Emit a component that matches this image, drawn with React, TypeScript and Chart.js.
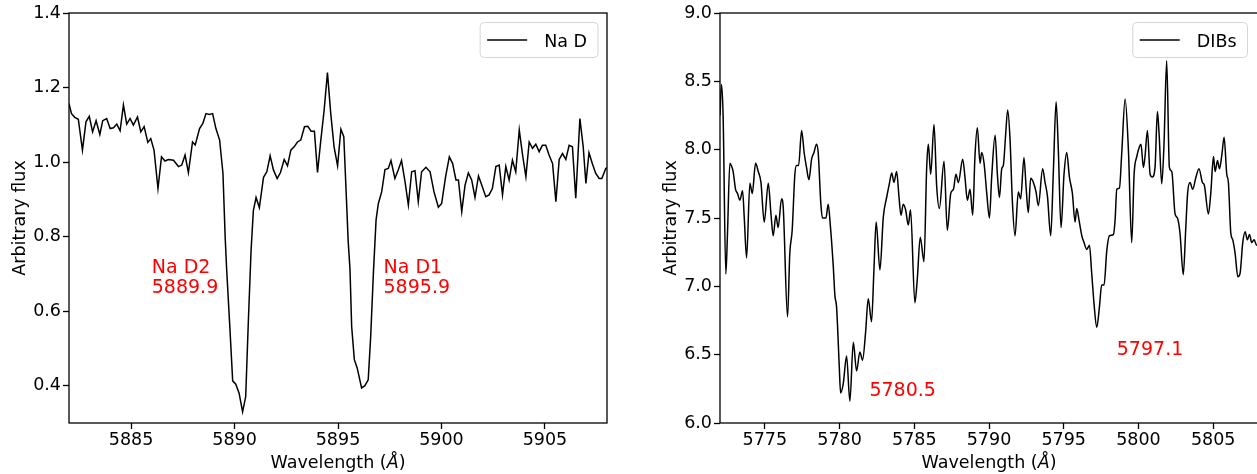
import React, { useEffect, useRef } from "react";
import { Chart, registerables } from "chart.js";

Chart.register(...registerables);

const FONT = "'DejaVu Sans', 'Liberation Sans', sans-serif";

// ---------- Left panel: Na D ----------
const naWavelength = [
  5882.0, 5882.12, 5882.28, 5882.45, 5882.65, 5882.82, 5882.98, 5883.14, 5883.31, 5883.49,
  5883.63, 5883.82, 5883.99, 5884.15, 5884.31, 5884.47, 5884.63, 5884.79, 5884.95, 5885.11,
  5885.31, 5885.47, 5885.63, 5885.81, 5885.95, 5886.11, 5886.3, 5886.47, 5886.64, 5886.8,
  5887.05, 5887.29, 5887.45, 5887.61, 5887.77, 5887.97, 5888.1, 5888.31, 5888.47, 5888.62,
  5888.78, 5888.94, 5889.1, 5889.28, 5889.44, 5889.55, 5889.62, 5889.78, 5889.91, 5890.06,
  5890.22, 5890.39, 5890.54, 5890.67, 5890.8, 5890.91, 5891.04, 5891.2, 5891.4, 5891.56,
  5891.72, 5891.88, 5892.06, 5892.22, 5892.4, 5892.56, 5892.72, 5892.88, 5893.04, 5893.2,
  5893.38, 5893.54, 5893.7, 5893.86, 5894.01, 5894.17, 5894.33, 5894.49, 5894.65, 5894.81,
  5894.98, 5895.14, 5895.28, 5895.41, 5895.49, 5895.58, 5895.66, 5895.79, 5895.93, 5896.14,
  5896.3, 5896.46, 5896.58, 5896.71, 5896.84, 5896.95, 5897.11, 5897.27, 5897.43, 5897.56,
  5897.75, 5897.91, 5898.07, 5898.24, 5898.4, 5898.56, 5898.72, 5898.88, 5899.04, 5899.25,
  5899.45, 5899.64, 5899.85, 5900.01, 5900.2, 5900.38, 5900.54, 5900.7, 5900.82, 5900.98,
  5901.14, 5901.3, 5901.46, 5901.62, 5901.79, 5901.95, 5902.14, 5902.3, 5902.46, 5902.63,
  5902.79, 5902.95, 5903.11, 5903.27, 5903.43, 5903.59, 5903.76, 5903.92, 5904.08, 5904.24,
  5904.4, 5904.56, 5904.72, 5904.88, 5905.04, 5905.2, 5905.37, 5905.53, 5905.69, 5905.85,
  5906.01, 5906.17, 5906.33, 5906.49, 5906.69, 5906.85, 5906.98, 5907.13, 5907.29, 5907.45,
  5907.62, 5907.75, 5907.94, 5908.0,
];
const naFlux = [
  1.157, 1.13, 1.12, 1.115, 1.032, 1.108, 1.123, 1.081, 1.111, 1.074,
  1.111, 1.117, 1.09, 1.092, 1.102, 1.084, 1.153, 1.102, 1.117, 1.099,
  1.121, 1.081, 1.095, 1.053, 1.063, 1.032, 0.929, 1.014, 1.003, 1.007,
  1.005, 0.988, 0.992, 1.019, 0.972, 1.054, 1.046, 1.09, 1.104, 1.13,
  1.128, 1.13, 1.09, 1.059, 0.97, 0.795, 0.711, 0.55, 0.413, 0.404,
  0.38, 0.33, 0.371, 0.577, 0.764, 0.87, 0.905, 0.878, 0.959, 0.974,
  1.017, 0.979, 0.956, 0.972, 1.007, 0.99, 1.032, 1.041, 1.054, 1.059,
  1.095, 1.096, 1.083, 1.083, 0.972, 1.059, 1.139, 1.24, 1.13, 1.041,
  0.99, 1.088, 1.068, 0.898, 0.79, 0.711, 0.559, 0.47, 0.447, 0.394,
  0.4, 0.416, 0.532, 0.702, 0.845, 0.889, 0.92, 0.98, 0.983, 1.004,
  0.956, 0.979, 1.004, 0.947, 0.885, 0.974, 0.977, 0.894, 0.974, 0.986,
  0.974, 0.92, 0.879, 0.889, 0.961, 1.014, 0.996, 0.952, 0.952, 0.867,
  0.938, 0.971, 0.952, 0.905, 0.963, 0.938, 0.907, 0.912, 0.929, 0.988,
  0.992, 0.912, 0.988, 0.952, 1.005, 0.974, 1.086, 1.019, 0.961, 1.054,
  1.037, 1.048, 1.028, 1.045, 1.045, 1.019, 0.996, 0.894, 1.007, 1.023,
  1.007, 1.045, 1.041, 0.903, 1.117, 1.041, 0.943, 1.025, 0.996, 0.97,
  0.956, 0.956, 0.983, 0.985,
];
const naTicksX = [5885, 5890, 5895, 5900, 5905];
const naTicksY = [0.4, 0.6, 0.8, 1.0, 1.2, 1.4];
const naNotes = [
  { lines: ["Na D2", "5889.9"], x: 5886.0, y: 0.65 },
  { lines: ["Na D1", "5895.9"], x: 5897.2, y: 0.65 },
];

// ---------- Right panel: DIBs ----------
const dibWavelength = [
  5772.0, 5772.1, 5772.21, 5772.39, 5772.5, 5772.66, 5772.77, 5772.88, 5773.04, 5773.17,
  5773.33, 5773.51, 5773.62, 5773.78, 5774.0, 5774.16, 5774.38, 5774.56, 5774.74, 5774.96,
  5775.23, 5775.41, 5775.56, 5775.74, 5775.89, 5776.12, 5776.23, 5776.52, 5776.67, 5776.83,
  5777.01, 5777.12, 5777.26, 5777.46, 5777.64, 5777.79, 5777.95, 5778.13, 5778.29, 5778.46,
  5778.57, 5778.75, 5778.86, 5779.09, 5779.24, 5779.38, 5779.58, 5779.69, 5779.8, 5779.98,
  5780.07, 5780.25, 5780.47, 5780.69, 5780.92, 5781.14, 5781.36, 5781.54, 5781.74, 5781.92,
  5782.14, 5782.3, 5782.45, 5782.7, 5782.93, 5783.15, 5783.33, 5783.49, 5783.64, 5783.82,
  5783.98, 5784.11, 5784.26, 5784.42, 5784.6, 5784.75, 5785.04, 5785.2, 5785.4, 5785.65,
  5785.83, 5785.94, 5786.1, 5786.32, 5786.5, 5786.68, 5786.99, 5787.21, 5787.44, 5787.62,
  5787.79, 5787.95, 5788.24, 5788.4, 5788.55, 5788.73, 5788.91, 5789.06, 5789.22, 5789.4,
  5789.51, 5789.67, 5789.85, 5790.03, 5790.18, 5790.41, 5790.56, 5790.7, 5790.85, 5790.96,
  5791.12, 5791.25, 5791.41, 5791.56, 5791.74, 5791.96, 5792.12, 5792.34, 5792.48, 5792.63,
  5792.79, 5792.97, 5793.15, 5793.3, 5793.59, 5793.75, 5793.91, 5794.13, 5794.31, 5794.49,
  5794.64, 5794.82, 5795.02, 5795.2, 5795.38, 5795.58, 5795.76, 5795.87, 5796.03, 5796.21,
  5796.36, 5796.54, 5796.72, 5796.87, 5797.03, 5797.21, 5797.39, 5797.54, 5797.7, 5797.88,
  5798.06, 5798.33, 5798.44, 5798.55, 5798.73, 5798.88, 5799.11, 5799.33, 5799.55, 5799.71,
  5799.89, 5800.06, 5800.17, 5800.33, 5800.44, 5800.6, 5800.78, 5800.93, 5801.11, 5801.27,
  5801.38, 5801.56, 5801.71, 5801.89, 5802.07, 5802.23, 5802.45, 5802.61, 5802.78, 5803.0,
  5803.16, 5803.29, 5803.45, 5803.63, 5803.85, 5804.05, 5804.28, 5804.41, 5804.68, 5804.84,
  5805.02, 5805.13, 5805.29, 5805.42, 5805.58, 5805.73, 5805.91, 5806.02, 5806.18, 5806.31,
  5806.47, 5806.65, 5806.8, 5806.98, 5807.14, 5807.29, 5807.43, 5807.58, 5807.74, 5807.91,
  5808.0,
];
const dibFlux = [
  8.25, 8.476, 8.24, 7.09, 7.385, 7.9, 7.88, 7.84, 7.71, 7.68,
  7.63, 7.7, 7.51, 7.207, 7.755, 7.68, 7.9, 7.84, 7.76, 7.47,
  7.755, 7.53, 7.37, 7.52, 7.43, 7.64, 7.58, 6.776, 7.24, 7.41,
  7.82, 7.885, 7.885, 8.14, 7.97, 7.87, 7.78, 7.93, 7.98, 8.04,
  7.98, 7.6, 7.5, 7.5, 7.6, 7.45, 7.146, 6.93, 6.85, 6.415,
  6.22, 6.29, 6.49, 6.16, 6.59, 6.38, 6.52, 6.46, 6.66, 6.91,
  6.74, 7.12, 7.47, 7.12, 7.51, 7.65, 7.75, 7.83, 7.76, 7.84,
  7.65, 7.52, 7.6, 7.56, 7.45, 7.56, 6.88, 7.05, 7.36, 7.18,
  7.87, 8.04, 7.82, 8.185, 7.73, 7.57, 7.915, 7.41, 7.68, 7.71,
  7.82, 7.76, 7.93, 7.79, 7.63, 7.71, 7.52, 7.95, 8.16, 7.9,
  7.98, 7.9, 7.68, 7.5, 7.8, 8.105, 7.82, 7.65, 7.86, 7.885,
  8.12, 8.29, 8.07, 7.63, 7.37, 7.69, 7.64, 7.94, 7.73, 7.54,
  7.79, 7.76, 7.69, 7.59, 7.86, 7.76, 7.66, 7.37, 7.85, 8.35,
  7.995, 7.43, 7.82, 7.98, 7.8, 7.68, 7.47, 7.57, 7.48, 7.37,
  7.32, 7.27, 7.3, 7.1, 6.87, 6.7, 6.85, 7.01, 7.01, 7.26,
  7.37, 7.38, 7.49, 7.71, 7.72, 7.97, 8.37, 7.995, 7.32, 7.82,
  7.95, 8.02, 8.04, 7.87, 7.95, 8.14, 7.82, 7.8, 7.87, 8.28,
  8.12, 7.75, 8.04, 8.65, 7.87, 7.84, 7.53, 7.5, 7.39, 7.085,
  7.41, 7.68, 7.76, 7.71, 7.8, 7.86, 7.76, 7.74, 7.53, 7.68,
  7.95, 7.84, 7.92, 7.86, 7.96, 8.09, 7.82, 7.76, 7.39, 7.34,
  7.24, 7.07, 7.095, 7.32, 7.4, 7.34, 7.38, 7.32, 7.34, 7.3,
  7.3,
];
const dibTicksX = [5775, 5780, 5785, 5790, 5795, 5800, 5805];
const dibTicksY = [6.0, 6.5, 7.0, 7.5, 8.0, 8.5, 9.0];
const dibNotes = [
  { lines: ["5780.5"], x: 5782.0, y: 6.2 },
  { lines: ["5797.1"], x: 5798.55, y: 6.5 },
];

type Note = { lines: string[]; x: number; y: number };
type Panel = {
  label: string;
  wave: number[];
  flux: number[];
  xMin: number;
  xMax: number;
  yMin: number;
  yMax: number;
  xTicks: number[];
  yTicks: number[];
  notes: Note[];
  smooth: boolean;
  yAxisWidth: number;
  padRight: number;
  yTitleX: number;
  legendGap: number;
};

function decorPlugin(p: Panel) {
  return {
    id: "decor",
    afterDraw(chart: any) {
      const { ctx, chartArea: a, scales } = chart;
      ctx.save();
      // spines
      ctx.strokeStyle = "#000";
      ctx.lineWidth = 1.3;
      ctx.strokeRect(a.left, a.top, a.right - a.left, a.bottom - a.top);

      // annotations
      ctx.fillStyle = "#ff0000";
      ctx.font = `19px ${FONT}`;
      ctx.textAlign = "left";
      ctx.textBaseline = "alphabetic";
      p.notes.forEach((n) => {
        const px = scales.x.getPixelForValue(n.x);
        const py = scales.y.getPixelForValue(n.y);
        n.lines.forEach((t, i) => {
          ctx.fillText(t, px, py - (n.lines.length - 1 - i) * 19.5);
        });
      });

      // legend
      ctx.font = `17.5px ${FONT}`;
      const tw = ctx.measureText(p.label).width;
      const bw = tw + 75;
      const bh = 35;
      const bx = a.right - p.legendGap - bw;
      const by = a.top + 9.5;
      ctx.beginPath();
      ctx.roundRect(bx, by, bw, bh, 4);
      ctx.fillStyle = "rgba(255,255,255,0.8)";
      ctx.fill();
      ctx.strokeStyle = "#d6d6d6";
      ctx.lineWidth = 1;
      ctx.stroke();
      ctx.beginPath();
      ctx.moveTo(bx + 7, by + bh / 2);
      ctx.lineTo(bx + 47, by + bh / 2);
      ctx.strokeStyle = "#000";
      ctx.lineWidth = 1.5;
      ctx.stroke();
      ctx.fillStyle = "#000";
      ctx.fillText(p.label, bx + 64, by + bh / 2 + 6.5);

      // x title with italic Angstrom
      const cx = (a.left + a.right) / 2;
      const base = 468;
      const t1 = "Wavelength (";
      const t2 = "Å";
      const t3 = ")";
      ctx.font = `17.5px ${FONT}`;
      const w1 = ctx.measureText(t1).width;
      const w3 = ctx.measureText(t3).width;
      ctx.font = `oblique 17.5px ${FONT}`;
      const w2 = ctx.measureText(t2).width;
      let x0 = cx - (w1 + w2 + w3) / 2;
      ctx.font = `17.5px ${FONT}`;
      ctx.fillText(t1, x0, base);
      x0 += w1;
      ctx.font = `oblique 17.5px ${FONT}`;
      ctx.fillText(t2, x0, base);
      x0 += w2;
      ctx.font = `17.5px ${FONT}`;
      ctx.fillText(t3, x0, base);

      // y title
      ctx.save();
      ctx.translate(p.yTitleX, (a.top + a.bottom) / 2);
      ctx.rotate(-Math.PI / 2);
      ctx.textAlign = "center";
      ctx.fillText("Arbitrary flux", 0, 0);
      ctx.restore();

      ctx.restore();
    },
  };
}

function makeConfig(p: Panel): any {
  const tickFont = { family: FONT, size: 17.5 };
  const grid = {
    display: true,
    drawOnChartArea: false,
    drawTicks: true,
    tickLength: 6,
    tickWidth: 1.3,
    tickColor: "#000",
    color: "#000",
  };
  return {
    type: "line",
    data: {
      datasets: [
        {
          label: p.label,
          data: p.wave.map((x, i) => ({ x, y: p.flux[i] })),
          borderColor: "#000",
          borderWidth: 1.5,
          pointRadius: 0,
          fill: false,
          tension: 0,
          cubicInterpolationMode: p.smooth ? "monotone" : "default",
        },
      ],
    },
    options: {
      animation: false,
      responsive: true,
      maintainAspectRatio: false,
      events: [],
      layout: { padding: { left: 0, right: p.padRight, top: 13, bottom: 0 } },
      plugins: { legend: { display: false }, tooltip: { enabled: false } },
      scales: {
        x: {
          type: "linear",
          min: p.xMin,
          max: p.xMax,
          afterBuildTicks: (s: any) => {
            s.ticks = p.xTicks.map((v) => ({ value: v }));
          },
          afterFit: (s: any) => {
            s.height = 51;
          },
          grid,
          border: { display: false },
          ticks: {
            color: "#000",
            font: tickFont,
            padding: 1,
            maxRotation: 0,
            autoSkip: false,
            callback: (v: any) => String(v),
          },
        },
        y: {
          type: "linear",
          min: p.yMin,
          max: p.yMax,
          afterBuildTicks: (s: any) => {
            s.ticks = p.yTicks.map((v) => ({ value: v }));
          },
          afterFit: (s: any) => {
            s.width = p.yAxisWidth;
          },
          grid,
          border: { display: false },
          ticks: {
            color: "#000",
            font: tickFont,
            padding: 2,
            autoSkip: false,
            callback: (v: any) => Number(v).toFixed(1),
          },
        },
      },
    },
    plugins: [decorPlugin(p)],
  };
}

const leftPanel: Panel = {
  label: "Na D",
  wave: naWavelength,
  flux: naFlux,
  xMin: 5882,
  xMax: 5908,
  yMin: 0.3,
  yMax: 1.4,
  xTicks: naTicksX,
  yTicks: naTicksY,
  notes: naNotes,
  smooth: false,
  yAxisWidth: 69,
  padRight: 23,
  yTitleX: 25,
  legendGap: 9,
};

const rightPanel: Panel = {
  label: "DIBs",
  wave: dibWavelength,
  flux: dibFlux,
  xMin: 5772,
  xMax: 5808,
  yMin: 6.0,
  yMax: 9.0,
  xTicks: dibTicksX,
  yTicks: dibTicksY,
  notes: dibNotes,
  smooth: true,
  yAxisWidth: 80,
  padRight: 1,
  yTitleX: 36,
  legendGap: 10.5,
};

export default function App() {
  const leftRef = useRef<HTMLCanvasElement | null>(null);
  const rightRef = useRef<HTMLCanvasElement | null>(null);

  useEffect(() => {
    const charts: Chart[] = [];
    if (leftRef.current) charts.push(new Chart(leftRef.current, makeConfig(leftPanel)));
    if (rightRef.current) charts.push(new Chart(rightRef.current, makeConfig(rightPanel)));
    return () => charts.forEach((c) => c.destroy());
  }, []);

  return (
    <div
      style={{
        position: "absolute",
        left: 0,
        top: 0,
        width: 1257,
        height: 474,
        overflow: "hidden",
        background: "#fff",
      }}
    >
      <div style={{ position: "absolute", left: 0, top: 0, width: 630, height: 474 }}>
        <canvas ref={leftRef} />
      </div>
      <div style={{ position: "absolute", left: 640, top: 0, width: 619, height: 474 }}>
        <canvas ref={rightRef} />
      </div>
    </div>
  );
}
